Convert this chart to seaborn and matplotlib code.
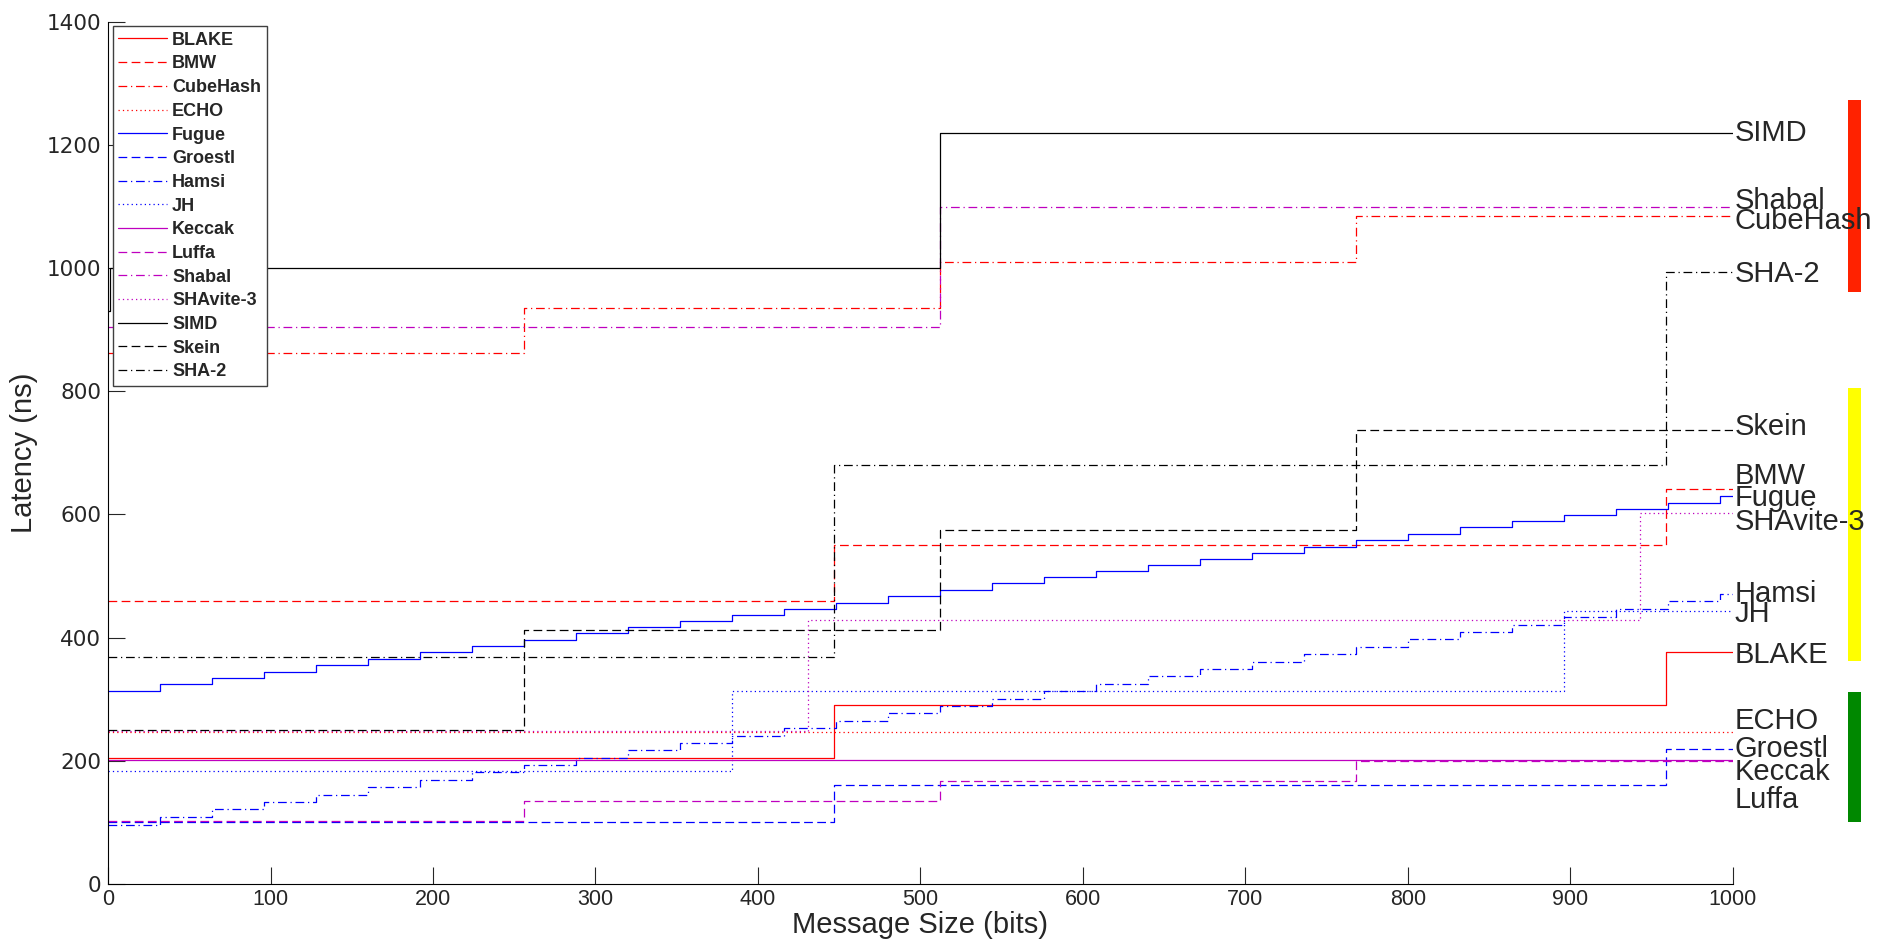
import matplotlib
matplotlib.use("Agg")
import matplotlib.pyplot as plt
from matplotlib import font_manager
from matplotlib.patches import Rectangle
import pandas as pd
import seaborn as sns

# step functions: breakpoints (message size, bits) and latency (ns) after each breakpoint
names = ["BLAKE", "BMW", "CubeHash", "ECHO", "Fugue", "Groestl", "Hamsi", "JH",
         "Keccak", "Luffa", "Shabal", "SHAvite-3", "SIMD", "Skein", "SHA-2"]

blake_x = [0, 447, 959]
blake_y = [205, 290, 377]
bmw_x = [0, 447, 959]
bmw_y = [460, 551, 642]
cubehash_x = [0, 256, 512, 768]
cubehash_y = [862, 936, 1010, 1084]
echo_x = [0]
echo_y = [246]
fugue_x = [0, 32, 64, 96, 128, 160, 192, 224, 256, 288, 320, 352, 384, 416, 448, 480,
           512, 544, 576, 608, 640, 672, 704, 736, 768, 800, 832, 864, 896, 928, 960, 992]
fugue_y = [314, 325, 335, 345, 355, 366, 376, 386, 396, 407, 417, 427, 437, 447, 457, 467,
           477, 488, 498, 508, 518, 528, 538, 548, 559, 569, 579, 589, 599, 609, 619, 630]
groestl_x = [0, 447, 959]
groestl_y = [101, 160, 219]
hamsi_x = fugue_x
hamsi_y = [96, 109, 121, 133, 145, 157, 169, 181, 193, 205, 217, 229, 241, 253, 265, 277,
           289, 301, 313, 325, 337, 349, 361, 373, 385, 397, 409, 421, 434, 446, 459, 471]
jh_x = [0, 384, 896]
jh_y = [184, 313, 443]
keccak_x = [0]
keccak_y = [202]
luffa_x = [0, 256, 512, 768]
luffa_y = [102, 135, 167, 199]
shabal_x = [0, 512]
shabal_y = [904, 1099]
shavite_x = [0, 431, 943]
shavite_y = [248, 428, 603]
simd_x = [0, 1, 512]
simd_y = [930, 1000, 1220]
skein_x = [0, 256, 512, 768]
skein_y = [250, 412, 575, 738]
sha2_x = [0, 447, 959]
sha2_y = [368, 681, 994]

xs = [blake_x, bmw_x, cubehash_x, echo_x, fugue_x, groestl_x, hamsi_x, jh_x,
      keccak_x, luffa_x, shabal_x, shavite_x, simd_x, skein_x, sha2_x]
ys = [blake_y, bmw_y, cubehash_y, echo_y, fugue_y, groestl_y, hamsi_y, jh_y,
      keccak_y, luffa_y, shabal_y, shavite_y, simd_y, skein_y, sha2_y]

# where the names sit on the right (spread so they do not overlap)
label_y = [372, 663, 1076, 264, 626, 219, 471, 438, 182, 137, 1109, 588, 1220, 742, 991]

# groups marked by the coloured bars
bar_colors = ["#ff2200", "#ffff00", "#008800"]
bar_lo = [962, 362, 100]
bar_hi = [1273, 805, 312]

colors = ["r", "r", "r", "r", "b", "b", "b", "b", "m", "m", "m", "m", "k", "k", "k"]
dash = (7, 3.5)
dot = (1, 2.5)
dashdot = (7, 3, 1, 3)
styles = ["-", dash, dashdot, dot] * 3 + ["-", dash, dashdot]

sns.set_style("ticks")
families = {f.name for f in font_manager.fontManager.ttflist}
narrow = "Liberation Sans Narrow" if "Liberation Sans Narrow" in families else "Liberation Sans"
plt.rcParams["font.family"] = ["Liberation Sans", "DejaVu Sans"]

fig = plt.figure(figsize=(19.02, 9.51), dpi=100)
ax = fig.add_axes([0.0568, 0.0705, 0.8542, 0.9065])

for name, x, y, c, st in zip(names, xs, ys, colors, styles):
    df = pd.DataFrame({"size": x + [1000], "latency": y + [y[-1]]})
    sns.lineplot(data=df, x="size", y="latency", ax=ax, color=c, lw=0.9,
                 drawstyle="steps-post", label=name, estimator=None,
                 sort=False, errorbar=None)
    if st != "-":
        ax.lines[-1].set_dashes(st)

for name, ly in zip(names, label_y):
    ax.text(1001, ly, name, fontsize=21, family=[narrow, "DejaVu Sans"],
            va="center", ha="left", clip_on=False)

for c, lo, hi in zip(bar_colors, bar_lo, bar_hi):
    ax.add_patch(Rectangle((1071, lo), 8, hi - lo, color=c, clip_on=False, lw=0))

ax.set_xlim(0, 1000)
ax.set_ylim(0, 1400)
ax.set_xticks(range(0, 1001, 100))
ax.set_yticks(range(0, 1401, 200))
ax.tick_params(direction="in", length=12, width=0.8)
ax.tick_params(axis="x", labelsize=15.5)
ax.tick_params(axis="y", labelsize=15.5, pad=5)
for t in ax.get_yticklabels():
    t.set_family("DejaVu Sans")
ax.set_xlabel("Message Size (bits)", fontsize=21, labelpad=1)
ax.set_ylabel("Latency (ns)", fontsize=21, labelpad=6)
sns.despine(ax=ax)
for s in ["left", "bottom"]:
    ax.spines[s].set_linewidth(0.8)
    ax.spines[s].set_color("k")

leg = ax.legend(loc="upper left", bbox_to_anchor=(0.0, 1.0), borderaxespad=0.25,
                prop={"weight": "bold", "size": 13}, handlelength=2.7,
                handletextpad=0.3, labelspacing=0.37, borderpad=0.3,
                fancybox=False, framealpha=1, edgecolor="#404040")
leg.get_frame().set_linewidth(1.0)

fig.savefig("out.png", dpi=100)
